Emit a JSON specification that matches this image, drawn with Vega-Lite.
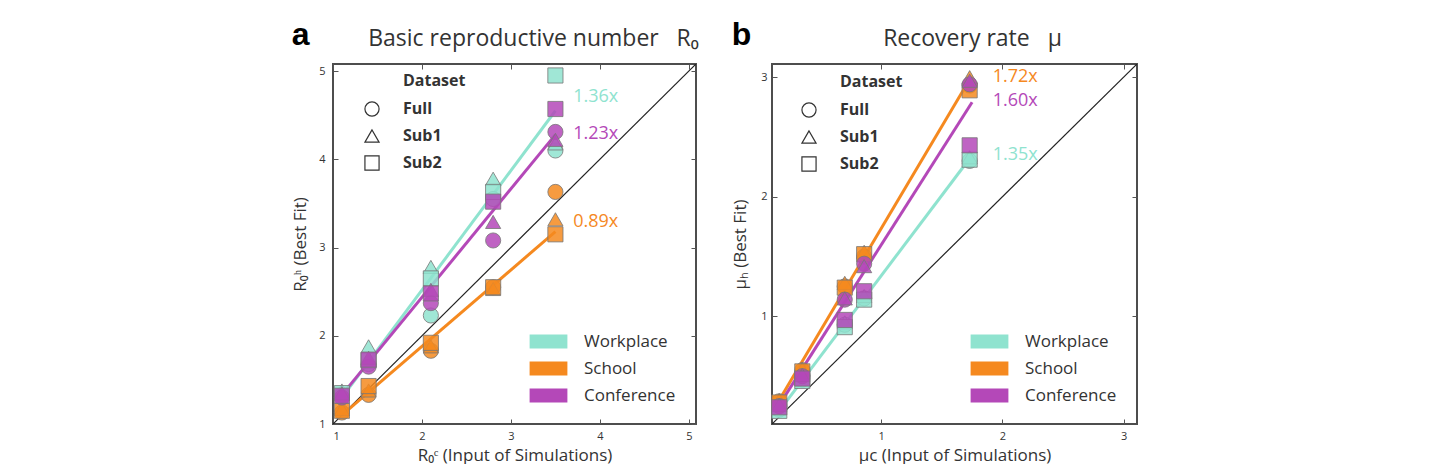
{
  "$schema": "https://vega.github.io/schema/vega-lite/v6.json",
  "background": "white",
  "padding": {"left": 290, "top": 17, "right": 0, "bottom": 0},
  "spacing": 30,
  "config": {
    "font": "Open Sans",
    "view": {"stroke": "#4d4d4d", "strokeWidth": 2},
    "axis": {"grid": false, "domain": false, "tickColor": "#555", "tickSize": -5, "tickWidth": 1, "labelFontSize": 11, "labelColor": "#333", "titleFontSize": 17, "titleFontWeight": "normal", "titleColor": "#333"},
    "legend": {"labelColor": "#333", "titleColor": "#333"}
  },
  "resolve": {"scale": {"x": "independent", "y": "independent", "color": "independent", "shape": "independent"}, "legend": {"color": "independent", "shape": "independent"}},
  "datasets": {
    "diagA": [{"x": 1, "y": 1}, {"x": 5.08, "y": 5.08}],
    "diagB": [{"x": 0.1, "y": 0.1}, {"x": 3.11, "y": 3.11}],
    "linesA": [
      {"context": "Workplace", "x": 1.1, "y": 1.3}, {"context": "Workplace", "x": 3.5, "y": 4.55},
      {"context": "School", "x": 1.1, "y": 1.1}, {"context": "School", "x": 3.5, "y": 3.18},
      {"context": "Conference", "x": 1.1, "y": 1.33}, {"context": "Conference", "x": 3.5, "y": 4.28}
    ],
    "linesB": [
      {"context": "Workplace", "x": 0.16, "y": 0.21}, {"context": "Workplace", "x": 1.73, "y": 2.32},
      {"context": "School", "x": 0.16, "y": 0.3}, {"context": "School", "x": 1.73, "y": 2.98},
      {"context": "Conference", "x": 0.16, "y": 0.26}, {"context": "Conference", "x": 1.75, "y": 2.79}
    ],
    "pointsA": [
      {"context": "Workplace", "dataset": "Full", "x": 1.1, "y": 1.33},
      {"context": "Workplace", "dataset": "Sub1", "x": 1.1, "y": 1.38},
      {"context": "Workplace", "dataset": "Sub2", "x": 1.1, "y": 1.35},
      {"context": "School", "dataset": "Full", "x": 1.1, "y": 1.13},
      {"context": "School", "dataset": "Sub1", "x": 1.1, "y": 1.17},
      {"context": "School", "dataset": "Sub2", "x": 1.1, "y": 1.15},
      {"context": "Conference", "dataset": "Full", "x": 1.1, "y": 1.3},
      {"context": "Conference", "dataset": "Sub1", "x": 1.1, "y": 1.35},
      {"context": "Conference", "dataset": "Sub2", "x": 1.1, "y": 1.32},
      {"context": "Workplace", "dataset": "Full", "x": 1.4, "y": 1.68},
      {"context": "Workplace", "dataset": "Sub1", "x": 1.4, "y": 1.88},
      {"context": "Workplace", "dataset": "Sub2", "x": 1.4, "y": 1.72},
      {"context": "School", "dataset": "Full", "x": 1.4, "y": 1.33},
      {"context": "School", "dataset": "Sub1", "x": 1.4, "y": 1.38},
      {"context": "School", "dataset": "Sub2", "x": 1.4, "y": 1.43},
      {"context": "Conference", "dataset": "Full", "x": 1.4, "y": 1.65},
      {"context": "Conference", "dataset": "Sub1", "x": 1.4, "y": 1.75},
      {"context": "Conference", "dataset": "Sub2", "x": 1.4, "y": 1.73},
      {"context": "Workplace", "dataset": "Full", "x": 2.1, "y": 2.23},
      {"context": "Workplace", "dataset": "Sub1", "x": 2.1, "y": 2.78},
      {"context": "Workplace", "dataset": "Sub2", "x": 2.1, "y": 2.65},
      {"context": "School", "dataset": "Full", "x": 2.1, "y": 1.83},
      {"context": "School", "dataset": "Sub1", "x": 2.1, "y": 1.88},
      {"context": "School", "dataset": "Sub2", "x": 2.1, "y": 1.92},
      {"context": "Conference", "dataset": "Full", "x": 2.1, "y": 2.37},
      {"context": "Conference", "dataset": "Sub1", "x": 2.1, "y": 2.52},
      {"context": "Conference", "dataset": "Sub2", "x": 2.1, "y": 2.48},
      {"context": "Workplace", "dataset": "Full", "x": 2.8, "y": 3.55},
      {"context": "Workplace", "dataset": "Sub1", "x": 2.8, "y": 3.78},
      {"context": "Workplace", "dataset": "Sub2", "x": 2.8, "y": 3.63},
      {"context": "School", "dataset": "Full", "x": 2.8, "y": 2.55},
      {"context": "School", "dataset": "Sub1", "x": 2.8, "y": 2.53},
      {"context": "School", "dataset": "Sub2", "x": 2.8, "y": 2.55},
      {"context": "Conference", "dataset": "Full", "x": 2.8, "y": 3.08},
      {"context": "Conference", "dataset": "Sub1", "x": 2.8, "y": 3.29},
      {"context": "Conference", "dataset": "Sub2", "x": 2.8, "y": 3.52},
      {"context": "Workplace", "dataset": "Full", "x": 3.5, "y": 4.1},
      {"context": "Workplace", "dataset": "Sub1", "x": 3.5, "y": 4.18},
      {"context": "Workplace", "dataset": "Sub2", "x": 3.5, "y": 4.95},
      {"context": "School", "dataset": "Full", "x": 3.5, "y": 3.63},
      {"context": "School", "dataset": "Sub1", "x": 3.5, "y": 3.32},
      {"context": "School", "dataset": "Sub2", "x": 3.5, "y": 3.15},
      {"context": "Conference", "dataset": "Full", "x": 3.5, "y": 4.31},
      {"context": "Conference", "dataset": "Sub1", "x": 3.5, "y": 4.22},
      {"context": "Conference", "dataset": "Sub2", "x": 3.5, "y": 4.57}
    ],
    "pointsB": [
      {"context": "Workplace", "dataset": "Full", "x": 0.16, "y": 0.22},
      {"context": "Workplace", "dataset": "Sub1", "x": 0.16, "y": 0.23},
      {"context": "Workplace", "dataset": "Sub2", "x": 0.16, "y": 0.21},
      {"context": "School", "dataset": "Full", "x": 0.16, "y": 0.29},
      {"context": "School", "dataset": "Sub1", "x": 0.16, "y": 0.3},
      {"context": "School", "dataset": "Sub2", "x": 0.16, "y": 0.28},
      {"context": "Conference", "dataset": "Full", "x": 0.16, "y": 0.25},
      {"context": "Conference", "dataset": "Sub1", "x": 0.16, "y": 0.26},
      {"context": "Conference", "dataset": "Sub2", "x": 0.16, "y": 0.24},
      {"context": "Workplace", "dataset": "Full", "x": 0.35, "y": 0.47},
      {"context": "Workplace", "dataset": "Sub1", "x": 0.35, "y": 0.48},
      {"context": "Workplace", "dataset": "Sub2", "x": 0.35, "y": 0.46},
      {"context": "School", "dataset": "Full", "x": 0.35, "y": 0.55},
      {"context": "School", "dataset": "Sub1", "x": 0.35, "y": 0.56},
      {"context": "School", "dataset": "Sub2", "x": 0.35, "y": 0.54},
      {"context": "Conference", "dataset": "Full", "x": 0.35, "y": 0.5},
      {"context": "Conference", "dataset": "Sub1", "x": 0.35, "y": 0.51},
      {"context": "Conference", "dataset": "Sub2", "x": 0.35, "y": 0.48},
      {"context": "Workplace", "dataset": "Full", "x": 0.7, "y": 0.93},
      {"context": "Workplace", "dataset": "Sub1", "x": 0.7, "y": 0.95},
      {"context": "Workplace", "dataset": "Sub2", "x": 0.7, "y": 0.91},
      {"context": "School", "dataset": "Full", "x": 0.7, "y": 1.25},
      {"context": "School", "dataset": "Sub1", "x": 0.7, "y": 1.28},
      {"context": "School", "dataset": "Sub2", "x": 0.7, "y": 1.24},
      {"context": "Conference", "dataset": "Full", "x": 0.7, "y": 1.14},
      {"context": "Conference", "dataset": "Sub1", "x": 0.7, "y": 1.15},
      {"context": "Conference", "dataset": "Sub2", "x": 0.7, "y": 0.97},
      {"context": "Workplace", "dataset": "Full", "x": 0.86, "y": 1.15},
      {"context": "Workplace", "dataset": "Sub1", "x": 0.86, "y": 1.17},
      {"context": "Workplace", "dataset": "Sub2", "x": 0.86, "y": 1.14},
      {"context": "School", "dataset": "Full", "x": 0.86, "y": 1.5},
      {"context": "School", "dataset": "Sub1", "x": 0.86, "y": 1.54},
      {"context": "School", "dataset": "Sub2", "x": 0.86, "y": 1.52},
      {"context": "Conference", "dataset": "Full", "x": 0.86, "y": 1.44},
      {"context": "Conference", "dataset": "Sub1", "x": 0.86, "y": 1.42},
      {"context": "Conference", "dataset": "Sub2", "x": 0.86, "y": 1.21},
      {"context": "Workplace", "dataset": "Full", "x": 1.73, "y": 2.3},
      {"context": "Workplace", "dataset": "Sub1", "x": 1.73, "y": 2.33},
      {"context": "Workplace", "dataset": "Sub2", "x": 1.73, "y": 2.31},
      {"context": "School", "dataset": "Full", "x": 1.73, "y": 2.93},
      {"context": "School", "dataset": "Sub1", "x": 1.73, "y": 3.0},
      {"context": "School", "dataset": "Sub2", "x": 1.73, "y": 2.89},
      {"context": "Conference", "dataset": "Full", "x": 1.73, "y": 2.94},
      {"context": "Conference", "dataset": "Sub1", "x": 1.73, "y": 2.97},
      {"context": "Conference", "dataset": "Sub2", "x": 1.73, "y": 2.43}
    ],
    "labelsA": [
      {"context": "Workplace", "label": "1.36x", "x": 3.7, "y": 4.71},
      {"context": "Conference", "label": "1.23x", "x": 3.7, "y": 4.29},
      {"context": "School", "label": "0.89x", "x": 3.7, "y": 3.29}
    ],
    "labelsB": [
      {"context": "School", "label": "1.72x", "x": 1.92, "y": 3.0},
      {"context": "Conference", "label": "1.60x", "x": 1.92, "y": 2.8},
      {"context": "Workplace", "label": "1.35x", "x": 1.92, "y": 2.35}
    ]
  },
  "hconcat": [
    {
      "width": 363,
      "height": 360,
      "title": {"text": "a", "anchor": "start", "frame": "bounds", "font": "Liberation Sans", "fontSize": 32, "fontWeight": "bold", "color": "#000", "offset": -24},
      "resolve": {"axis": {"x": "independent", "y": "independent"}},
      "layer": [
        {
          "data": {"name": "diagA"},
          "mark": {"type": "line", "color": "#222", "strokeWidth": 1.2, "clip": true},
          "encoding": {
            "x": {"field": "x", "type": "quantitative", "scale": {"domain": [1, 5.08], "nice": false, "zero": false},
                  "axis": {"orient": "bottom", "values": [1, 2, 3, 4, 5], "labelPadding": 11, "title": "R₀ᶜ (Input of Simulations)", "titlePadding": 6}},
            "y": {"field": "y", "type": "quantitative", "scale": {"domain": [1, 5.08], "nice": false, "zero": false},
                  "axis": {"orient": "left", "values": [1, 2, 3, 4, 5], "labelPadding": 13, "title": "R₀ʰ (Best Fit)", "titlePadding": 9}}
          }
        },
        {
          "data": {"name": "linesA"},
          "mark": {"type": "line", "strokeWidth": 3, "clip": true},
          "encoding": {
            "x": {"field": "x", "type": "quantitative", "axis": null},
            "y": {"field": "y", "type": "quantitative", "axis": null},
            "detail": {"field": "context"},
            "stroke": {"field": "context", "type": "nominal", "legend": null,
                      "scale": {"domain": ["Workplace", "School", "Conference"], "range": ["#8fe3cf", "#f5891f", "#b448b8"]}}
          }
        },
        {
          "data": {"name": "pointsA"},
          "mark": {"type": "point", "filled": true, "size": 230, "fillOpacity": 0.85, "opacity": 1, "stroke": "#777", "strokeWidth": 1, "strokeOpacity": 0.8},
          "encoding": {
            "x": {"field": "x", "type": "quantitative", "axis": {"orient": "top", "values": [1, 2, 3, 4, 5], "labels": false, "title": "Basic reproductive number\u00a0\u00a0\u00a0R₀", "titleFontSize": 23, "titlePadding": 13, "titleX": 200}},
            "y": {"field": "y", "type": "quantitative", "axis": {"orient": "right", "values": [1, 2, 3, 4, 5], "labels": false, "title": null}},
            "color": {"field": "context", "type": "nominal",
                      "scale": {"domain": ["Workplace", "School", "Conference"], "range": ["#8fe3cf", "#f5891f", "#b448b8"]},
                      "legend": {"orient": "bottom-right", "offset": 20, "title": null, "symbolType": "M-2.7,-1H2.7V1H-2.7Z", "symbolSize": 196, "symbolStrokeWidth": 0, "symbolOpacity": 1, "labelOffset": 27, "labelFontSize": 17, "rowPadding": 9}},
            "shape": {"field": "dataset", "type": "nominal",
                      "scale": {"domain": ["Full", "Sub1", "Sub2"], "range": ["circle", "triangle-up", "square"]},
                      "legend": {"orient": "none", "legendX": 31, "legendY": 9, "title": "Dataset", "titleFontSize": 16, "titleFontWeight": "bold", "titlePadding": 12, "titleAnchor": "middle", "titleAlign": "left", "labelFontSize": 16, "labelFontWeight": "bold", "labelOffset": 23, "symbolSize": 200, "rowPadding": 8, "symbolFillColor": "transparent", "symbolStrokeColor": "#333", "symbolStrokeWidth": 1.2}}
          }
        },
        {
          "data": {"name": "labelsA"},
          "mark": {"type": "text", "align": "left", "baseline": "middle", "fontSize": 18},
          "encoding": {
            "x": {"field": "x", "type": "quantitative", "axis": null},
            "y": {"field": "y", "type": "quantitative", "axis": null},
            "text": {"field": "label"},
            "fill": {"field": "context", "type": "nominal", "legend": null,
                      "scale": {"domain": ["Workplace", "School", "Conference"], "range": ["#8fe3cf", "#f5891f", "#b448b8"]}}
          }
        }
      ]
    },
    {
      "width": 365,
      "height": 360,
      "title": {"text": "b", "anchor": "start", "frame": "bounds", "font": "Liberation Sans", "fontSize": 32, "fontWeight": "bold", "color": "#000", "offset": -24},
      "resolve": {"axis": {"x": "independent", "y": "independent"}},
      "layer": [
        {
          "data": {"name": "diagB"},
          "mark": {"type": "line", "color": "#222", "strokeWidth": 1.2, "clip": true},
          "encoding": {
            "x": {"field": "x", "type": "quantitative", "scale": {"domain": [0.1, 3.11], "nice": false, "zero": false},
                  "axis": {"orient": "bottom", "values": [1, 2, 3], "labelPadding": 11, "title": "μc (Input of Simulations)", "titlePadding": 6}},
            "y": {"field": "y", "type": "quantitative", "scale": {"domain": [0.1, 3.11], "nice": false, "zero": false},
                  "axis": {"orient": "left", "values": [1, 2, 3], "labelPadding": 10, "title": "μₕ (Best Fit)", "titlePadding": 11}}
          }
        },
        {
          "data": {"name": "linesB"},
          "mark": {"type": "line", "strokeWidth": 3, "clip": true},
          "encoding": {
            "x": {"field": "x", "type": "quantitative", "axis": null},
            "y": {"field": "y", "type": "quantitative", "axis": null},
            "detail": {"field": "context"},
            "stroke": {"field": "context", "type": "nominal", "legend": null,
                      "scale": {"domain": ["Workplace", "School", "Conference"], "range": ["#8fe3cf", "#f5891f", "#b448b8"]}}
          }
        },
        {
          "data": {"name": "pointsB"},
          "mark": {"type": "point", "filled": true, "size": 230, "fillOpacity": 0.85, "opacity": 1, "stroke": "#777", "strokeWidth": 1, "strokeOpacity": 0.8},
          "encoding": {
            "x": {"field": "x", "type": "quantitative", "axis": {"orient": "top", "values": [1, 2, 3], "labels": false, "title": "Recovery rate\u00a0\u00a0\u00a0μ", "titleFontSize": 23, "titlePadding": 13, "titleX": 200}},
            "y": {"field": "y", "type": "quantitative", "axis": {"orient": "right", "values": [1, 2, 3], "labels": false, "title": null}},
            "color": {"field": "context", "type": "nominal",
                      "scale": {"domain": ["Workplace", "School", "Conference"], "range": ["#8fe3cf", "#f5891f", "#b448b8"]},
                      "legend": {"orient": "bottom-right", "offset": 20, "title": null, "symbolType": "M-2.7,-1H2.7V1H-2.7Z", "symbolSize": 196, "symbolStrokeWidth": 0, "symbolOpacity": 1, "labelOffset": 27, "labelFontSize": 17, "rowPadding": 9}},
            "shape": {"field": "dataset", "type": "nominal",
                      "scale": {"domain": ["Full", "Sub1", "Sub2"], "range": ["circle", "triangle-up", "square"]},
                      "legend": {"orient": "none", "legendX": 29, "legendY": 10, "title": "Dataset", "titleFontSize": 16, "titleFontWeight": "bold", "titlePadding": 12, "titleAnchor": "middle", "titleAlign": "left", "labelFontSize": 16, "labelFontWeight": "bold", "labelOffset": 23, "symbolSize": 200, "rowPadding": 8, "symbolFillColor": "transparent", "symbolStrokeColor": "#333", "symbolStrokeWidth": 1.2}}
          }
        },
        {
          "data": {"name": "labelsB"},
          "mark": {"type": "text", "align": "left", "baseline": "middle", "fontSize": 18},
          "encoding": {
            "x": {"field": "x", "type": "quantitative", "axis": null},
            "y": {"field": "y", "type": "quantitative", "axis": null},
            "text": {"field": "label"},
            "fill": {"field": "context", "type": "nominal", "legend": null,
                      "scale": {"domain": ["Workplace", "School", "Conference"], "range": ["#8fe3cf", "#f5891f", "#b448b8"]}}
          }
        }
      ]
    }
  ]
}
